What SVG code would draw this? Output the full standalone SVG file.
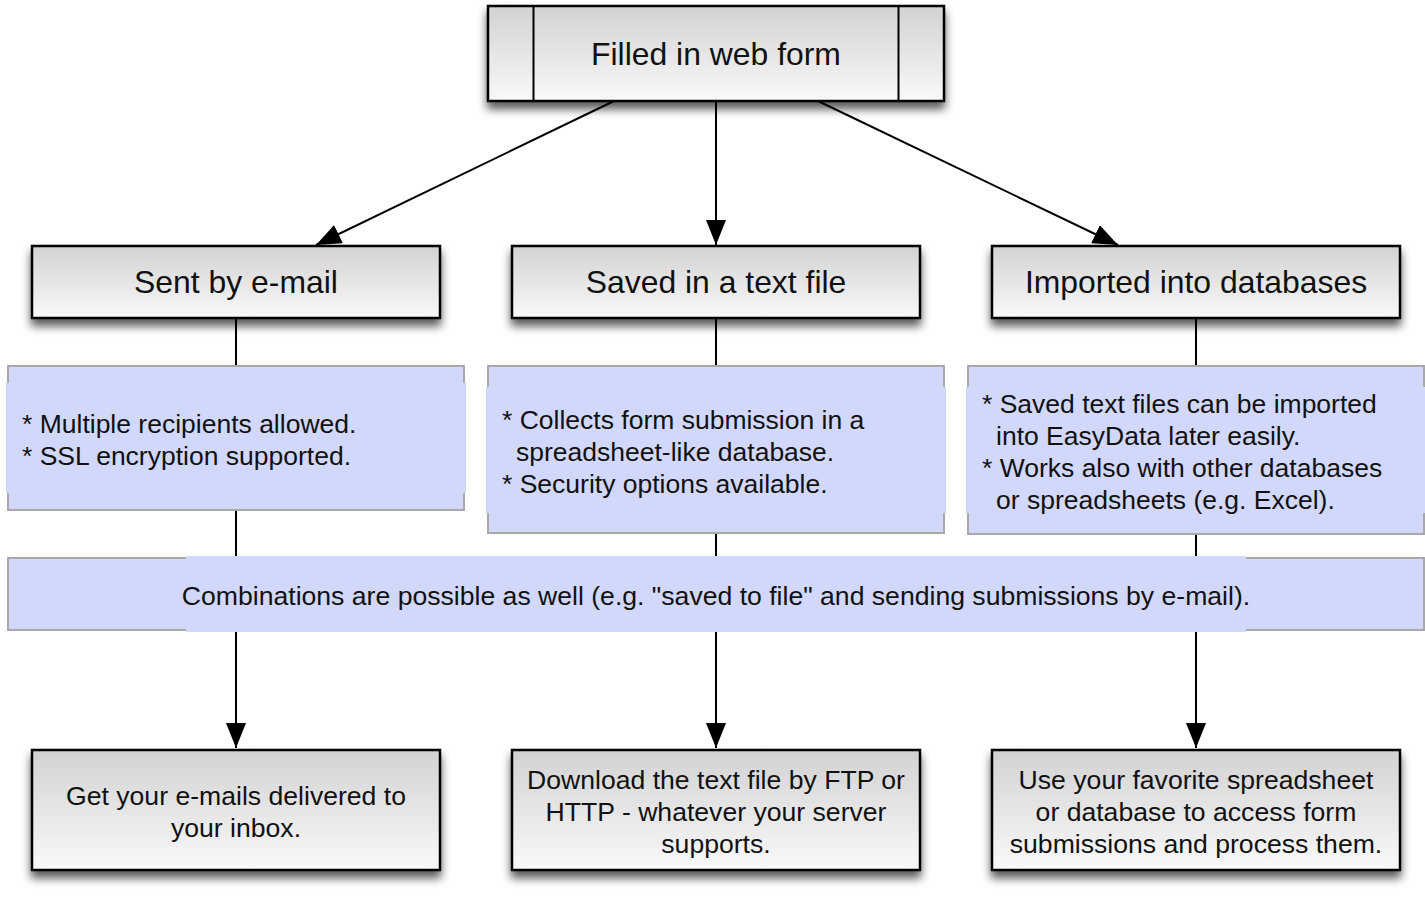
<svg xmlns="http://www.w3.org/2000/svg" width="1425" height="916" viewBox="0 0 1425 916">
<style>
text{font-family:"Liberation Sans",Arial,Helvetica,sans-serif;fill:#111}
.box{fill:url(#g);stroke:#000;stroke-width:2.5;filter:url(#sh)}
.t1{font-size:31.9px;text-anchor:middle}
.t2{font-size:26.5px}
.t3{font-size:26.6px;text-anchor:middle}
.note{fill:#d1d8fb;stroke:#a8a8a8;stroke-width:2}
.cover{fill:#d1d8fb}
.c{stroke:#000;stroke-width:2;fill:none}
.a{marker-end:url(#ah)}
</style>
<defs>
<linearGradient id="g" x1="0" y1="0" x2="0" y2="1">
<stop offset="0" stop-color="#d2d2d2"/>
<stop offset="1" stop-color="#f9f9f9"/>
</linearGradient>
<filter id="sh" x="-10%" y="-20%" width="120%" height="160%">
<feDropShadow dx="0" dy="7" stdDeviation="5" flood-color="#000" flood-opacity="0.65"/>
</filter>
<marker id="ah" markerUnits="userSpaceOnUse" markerWidth="26" markerHeight="20" refX="25" refY="10" orient="auto">
<path d="M0,0 L25,10 L0,20 z" fill="#000"/>
</marker>
</defs>

<g id="connectors">
<line class="c a" x1="614" y1="101" x2="316" y2="245"/>
<line class="c a" x1="716" y1="101" x2="716" y2="245"/>
<line class="c a" x1="818" y1="101" x2="1118" y2="245"/>
<line class="c" x1="236" y1="318" x2="236" y2="366"/>
<line class="c" x1="716" y1="318" x2="716" y2="366"/>
<line class="c" x1="1196" y1="318" x2="1196" y2="366"/>
<line class="c" x1="236" y1="510" x2="236" y2="558"/>
<line class="c" x1="716" y1="533" x2="716" y2="558"/>
<line class="c" x1="1196" y1="534" x2="1196" y2="558"/>
<line class="c a" x1="236" y1="630" x2="236" y2="748"/>
<line class="c a" x1="716" y1="630" x2="716" y2="748"/>
<line class="c a" x1="1196" y1="630" x2="1196" y2="748"/>
</g>

<g id="n-webform">
<rect class="box" x="488" y="6" width="456" height="95"/>
<line x1="533.5" y1="6" x2="533.5" y2="101" stroke="#000" stroke-width="2"/>
<line x1="898.5" y1="6" x2="898.5" y2="101" stroke="#000" stroke-width="2"/>
<text class="t1" x="716" y="65">Filled in web form</text>
</g>

<g id="n-email">
<rect class="box" x="32" y="246" width="408" height="72"/>
<text class="t1" x="236" y="293">Sent by e-mail</text>
</g>
<g id="n-textfile">
<rect class="box" x="512" y="246" width="408" height="72"/>
<text class="t1" x="716" y="293">Saved in a text file</text>
</g>
<g id="n-db">
<rect class="box" x="992" y="246" width="408" height="72"/>
<text class="t1" x="1196" y="293">Imported into databases</text>
</g>

<g id="note-email">
<rect class="note" x="8" y="366" width="456" height="144"/>
<rect class="cover" x="6" y="383" width="460" height="110"/>
<text class="t2" x="22" y="433">* Multiple recipients allowed.</text>
<text class="t2" x="22" y="465">* SSL encryption supported.</text>
</g>
<g id="note-textfile">
<rect class="note" x="488" y="366" width="456" height="167"/>
<rect class="cover" x="486" y="387" width="460" height="126"/>
<text class="t2" x="502" y="429">* Collects form submission in a</text>
<text class="t2" x="516" y="461">spreadsheet-like database.</text>
<text class="t2" x="502" y="493">* Security options available.</text>
</g>
<g id="note-db">
<rect class="note" x="968" y="366" width="456" height="168"/>
<rect class="cover" x="966" y="387" width="460" height="126"/>
<text class="t2" x="982" y="413">* Saved text files can be imported</text>
<text class="t2" x="996" y="445">into EasyData later easily.</text>
<text class="t2" x="982" y="477">* Works also with other databases</text>
<text class="t2" x="996" y="509">or spreadsheets (e.g. Excel).</text>
</g>

<g id="note-combo">
<rect class="note" x="8" y="558" width="1416" height="72"/>
<rect class="cover" x="186" y="556" width="1060" height="76"/>
<text class="t3" x="716" y="605">Combinations are possible as well (e.g. "saved to file" and sending submissions by e-mail).</text>
</g>

<g id="n-inbox">
<rect class="box" x="32" y="750" width="408" height="120"/>
<text class="t3" x="236" y="805">Get your e-mails delivered to</text>
<text class="t3" x="236" y="837">your inbox.</text>
</g>
<g id="n-download">
<rect class="box" x="512" y="750" width="408" height="120"/>
<text class="t3" x="716" y="789">Download the text file by FTP or</text>
<text class="t3" x="716" y="821">HTTP - whatever your server</text>
<text class="t3" x="716" y="853">supports.</text>
</g>
<g id="n-spreadsheet">
<rect class="box" x="992" y="750" width="408" height="120"/>
<text class="t3" x="1196" y="789">Use your favorite spreadsheet</text>
<text class="t3" x="1196" y="821">or database to access form</text>
<text class="t3" x="1196" y="853">submissions and process them.</text>
</g>
</svg>
